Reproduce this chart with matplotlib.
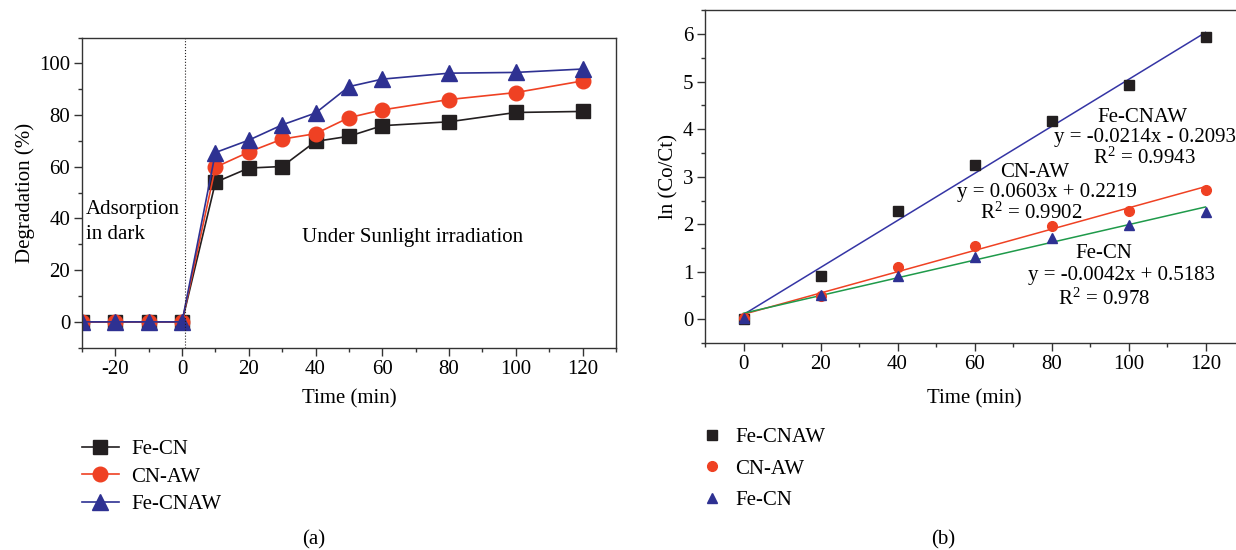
import numpy as np
import matplotlib
matplotlib.use("Agg")
import matplotlib.pyplot as plt
from matplotlib.ticker import MultipleLocator

plt.rcParams['font.family'] = ['Liberation Serif', 'DejaVu Serif']
plt.rcParams['mathtext.default'] = 'regular'
plt.rcParams['axes.unicode_minus'] = False

# (a) degradation vs time
time_a = [-30, -20, -10, 0, 10, 20, 30, 40, 50, 60, 80, 100, 120]
fe_cn_deg = [0, 0, 0, 0, 54.0, 59.5, 60.1, 69.8, 71.8, 75.9, 77.4, 81.0, 81.4]
cn_aw_deg = [0, 0, 0, 0, 59.8, 65.7, 70.7, 72.8, 79.0, 82.0, 86.0, 88.7, 93.2]
fe_cnaw_deg = [0, 0, 0, 0, 65.5, 70.3, 76.2, 80.8, 91.0, 93.9, 96.2, 96.5, 97.8]

# (b) kinetics ln(Co/Ct) vs time
time_b = [0, 20, 40, 60, 80, 100, 120]
fe_cnaw_ln = [0.0, 0.92, 2.29, 3.24, 4.18, 4.92, 5.93]
cn_aw_ln = [0.02, 0.50, 1.11, 1.55, 1.96, 2.29, 2.72]
fe_cn_ln = [0.02, 0.52, 0.92, 1.32, 1.71, 1.98, 2.26]

fit_text = {
    'Fe-CNAW': ['Fe-CNAW', 'y = -0.0214x - 0.2093', 'R$^2$ = 0.9943'],
    'CN-AW': ['CN-AW', 'y = 0.0603x + 0.2219', 'R$^2$ = 0.9902'],
    'Fe-CN': ['Fe-CN', 'y = -0.0042x + 0.5183', 'R$^2$ = 0.978'],
}

BLACK = '#231f20'
RED = '#ef4123'
NAVY = '#2e3192'
BLUE_LINE = '#3535a5'
GREEN = '#1f9a4a'
SPINE = '#333333'
FS = 15

fig = plt.figure(figsize=(12.36, 5.5), dpi=100)
ax1 = fig.add_axes([0.0663, 0.3678, 0.432, 0.564])
ax2 = fig.add_axes([0.5704, 0.376, 0.4361, 0.6053])


def style_axes(ax):
    for s in ax.spines.values():
        s.set_color(SPINE)
        s.set_linewidth(1.0)
    ax.tick_params(which='major', direction='out', length=5.5, width=1.0,
                   color=SPINE, labelsize=FS, pad=3)
    ax.tick_params(which='minor', direction='out', length=3, width=1.0, color=SPINE)


# ---- panel (a)
ax1.plot(time_a, fe_cn_deg, '-s', color=BLACK, lw=1.2, ms=9.5, label='Fe-CN')
ax1.plot(time_a, cn_aw_deg, '-o', color=RED, lw=1.2, ms=10.5, label='CN-AW')
ax1.plot(time_a, fe_cnaw_deg, '-^', color=NAVY, lw=1.2, ms=11, label='Fe-CNAW')
ax1.axvline(1, color=BLACK, lw=0.8, ls=':')
ax1.set_xlim(-30, 130)
ax1.set_ylim(-10, 110)
ax1.xaxis.set_major_locator(MultipleLocator(20))
ax1.xaxis.set_minor_locator(MultipleLocator(10))
ax1.yaxis.set_major_locator(MultipleLocator(20))
ax1.yaxis.set_minor_locator(MultipleLocator(10))
ax1.set_xticks([-20, 0, 20, 40, 60, 80, 100, 120])
style_axes(ax1)
ax1.set_xlabel('Time (min)', fontsize=FS, labelpad=8)
ax1.set_ylabel('Degradation (%)', fontsize=FS, labelpad=3)
ax1.text(-28.8, 43.5, 'Adsorption', fontsize=FS, va='center', ha='left')
ax1.text(-28.8, 33.8, 'in dark', fontsize=FS, va='center', ha='left')
ax1.text(69, 32.5, 'Under Sunlight irradiation', fontsize=FS, va='center', ha='center')

h1, l1 = ax1.get_legend_handles_labels()
fig.legend(h1, l1, loc='upper left', bbox_to_anchor=(0.066, 0.201), frameon=False,
           fontsize=FS, handlelength=1.8, handletextpad=0.6, labelspacing=0.38,
           borderpad=0, borderaxespad=0)

# ---- panel (b)
xs = np.array([0, 120])
series_b = [
    ('Fe-CNAW', fe_cnaw_ln, 's', BLACK, 6.5, BLUE_LINE),
    ('CN-AW', cn_aw_ln, 'o', RED, 7, RED),
    ('Fe-CN', fe_cn_ln, '^', NAVY, 7.5, GREEN),
]
for name, ys, mk, mc, ms, lc in series_b:
    slope, icpt = np.polyfit(time_b, ys, 1)
    ax2.plot(xs, slope * xs + icpt, '-', color=lc, lw=1.1, zorder=2)
for name, ys, mk, mc, ms, lc in series_b:
    ax2.plot(time_b, ys, mk, color=mc, ms=ms, ls='none', zorder=3, label=name)

ax2.set_xlim(-10, 130)
ax2.set_ylim(-0.5, 6.5)
ax2.xaxis.set_major_locator(MultipleLocator(20))
ax2.xaxis.set_minor_locator(MultipleLocator(10))
ax2.yaxis.set_major_locator(MultipleLocator(1))
ax2.yaxis.set_minor_locator(MultipleLocator(0.5))
ax2.set_xticks([0, 20, 40, 60, 80, 100, 120])
ax2.set_yticks([0, 1, 2, 3, 4, 5, 6])
style_axes(ax2)
ax2.set_xlabel('Time (min)', fontsize=FS, labelpad=11)
ax2.set_ylabel('ln (Co/Ct)', fontsize=FS, labelpad=3)

text_pos = {
    'Fe-CNAW': [(103.7, 4.25), (104.2, 3.83), (104.2, 3.38)],
    'CN-AW': [(75.7, 3.08), (78.9, 2.67), (74.8, 2.23)],
    'Fe-CN': [(93.6, 1.38), (98.2, 0.93), (93.6, 0.42)],
}
for key, lines in fit_text.items():
    for (tx, ty), s in zip(text_pos[key], lines):
        ax2.text(tx, ty, s, fontsize=FS, ha='center', va='center')

h2, l2 = ax2.get_legend_handles_labels()
fig.legend(h2, l2, loc='upper left', bbox_to_anchor=(0.568, 0.222), frameon=False,
           fontsize=FS, handlelength=1.0, handletextpad=0.6, labelspacing=0.56,
           borderpad=0, borderaxespad=0, numpoints=1)

fig.text(314 / 1236, 1 - 540 / 550, '(a)', fontsize=FS, ha='center', va='center')
fig.text(943 / 1236, 1 - 540 / 550, '(b)', fontsize=FS, ha='center', va='center')

fig.savefig('out.png', dpi=100)
